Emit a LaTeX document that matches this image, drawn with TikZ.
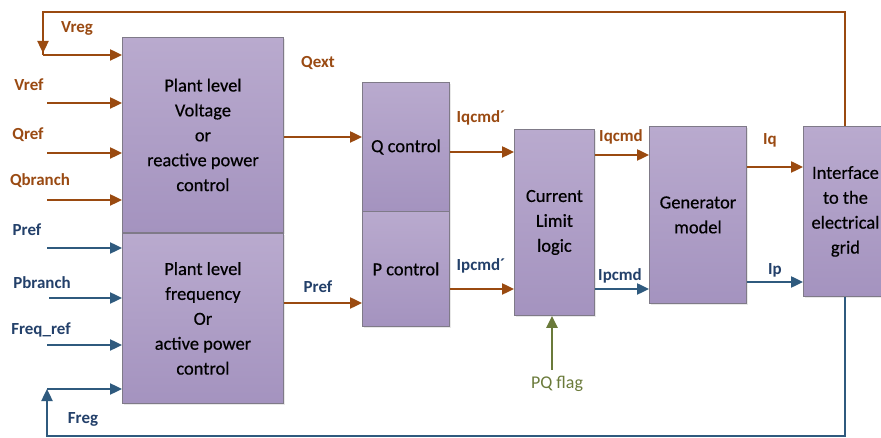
\documentclass[tikz,border=0pt]{standalone}
\usepackage{fontspec}
\setmainfont{Carlito}
\newfontfamily\boxfont[UprightFeatures={FakeBold=0.5}]{Carlito}
\usetikzlibrary{arrows.meta,shadows}
\definecolor{ptop}{HTML}{B9AACE}
\definecolor{pbot}{HTML}{A493BF}
\definecolor{edge}{HTML}{7F7A88}
\definecolor{qline}{HTML}{9A4A10}
\definecolor{qtext}{HTML}{9A4A12}
\definecolor{pline}{HTML}{2F5A7E}
\definecolor{ptext}{HTML}{23406A}
\definecolor{flag}{HTML}{6A7A3A}
\tikzset{
  blk/.style={draw=edge, line width=0.9bp, top color=ptop, bottom color=pbot,
    anchor=north west, inner sep=0pt, align=center,
    font=\boxfont\fontsize{18.5}{25}\selectfont,
    drop shadow={opacity=0.18, shadow xshift=2bp, shadow yshift=-2bp}},
  qarr/.style={draw=qline, line width=2.4bp, -{Triangle[length=12bp,width=11bp]}},
  parr/.style={draw=pline, line width=2.4bp, -{Triangle[length=12bp,width=11bp]}},
  qwire/.style={draw=qline, line width=2.4bp},
  pwire/.style={draw=pline, line width=2.4bp},
  qlab/.style={text=qtext, font=\bfseries\fontsize{17}{20}\selectfont, inner sep=0pt},
  plab/.style={text=ptext, font=\bfseries\fontsize{17}{20}\selectfont, inner sep=0pt},
}
\begin{document}
\begin{tikzpicture}[x=1bp,y=-1bp]
\useasboundingbox[fill=white] (0,0) rectangle (881,438);

% blocks
\node[blk, minimum width=161bp, minimum height=195bp] (pv) at (122,37)
  {Plant level\\Voltage\\or\\reactive power\\control};
\node[blk, minimum width=161bp, minimum height=170bp] (pf) at (122,233)
  {Plant level\\frequency\\Or\\active power\\control};
\node[blk, minimum width=87bp, minimum height=129bp] (qc) at (362,82) {Q control};
\node[blk, minimum width=87bp, minimum height=115bp] (pc) at (362,211) {P control};
\node[blk, minimum width=80bp, minimum height=186bp] (cl) at (514,129)
  {Current\\Limit\\logic};
\node[blk, minimum width=97bp, minimum height=177bp] (gen) at (649,126)
  {Generator\\model};
\node[blk, minimum width=84bp, minimum height=170bp] (grid) at (803,126)
  {Interface\\to the\\electrical\\grid};

% free ends of the input arrows and feedback corners
\coordinate (vrefS) at (47,103);
\coordinate (qrefS) at (47,153);
\coordinate (qbrS) at (47,200);
\coordinate (prefS) at (47,248);
\coordinate (pbrS) at (49,298);
\coordinate (frefS) at (47,345);
\coordinate (vregC) at (43,55);
\coordinate (fregC) at (47,389);
\coordinate (flagS) at (552,370);

% reactive (Q) path
\draw[qarr] (vrefS) -- (pv.west |- vrefS);
\draw[qarr] (qrefS) -- (pv.west |- qrefS);
\draw[qarr] (qbrS) -- (pv.west |- qbrS);
\draw[qwire] (grid.north -| 845,0) -- (845,12) -| (vregC);
\draw[qarr] (43,12) -- (43,53);
\draw[qarr] (vregC) -- (pv.west |- vregC);
\draw[qarr] (pv.east |- 0,137) -- (qc.west |- 0,137);
\draw[qarr] (qc.east |- 0,152) -- (cl.west |- 0,152);
\draw[qarr] (pc.east |- 0,289) -- (cl.west |- 0,289);
\draw[qarr] (pf.east |- 0,303) -- (pc.west |- 0,303);
\draw[qarr] (cl.east |- 0,155) -- (gen.west |- 0,155);
\draw[qarr] (gen.east |- 0,167) -- (grid.west |- 0,167);

% active (P) path
\draw[parr] (prefS) -- (pf.west |- prefS);
\draw[parr] (pbrS) -- (pf.west |- pbrS);
\draw[parr] (frefS) -- (pf.west |- frefS);
\draw[pwire] (grid.south -| 845,0) -- (845,436) -| (47,400);
\draw[parr] (47,436) -- (fregC);
\draw[parr] (fregC) -- (pf.west |- fregC);
\draw[parr] (cl.east |- 0,289) -- (gen.west |- 0,289);
\draw[parr] (gen.east |- 0,282) -- (grid.west |- 0,282);

% mode flag
\draw[draw=flag, line width=2.4bp, -{Triangle[length=12bp,width=11bp]}] (flagS) -- (cl.south -| flagS);
\node[text=flag, font=\fontsize{18}{20}\selectfont, inner sep=0pt] (flagL) at (557,384) {PQ flag};

% signal labels
\node[qlab] (lVreg) at (77,28) {Vreg};
\node[qlab] (lVref) at (29,85) {Vref};
\node[qlab] (lQref) at (28,135) {Qref};
\node[qlab] (lQbr) at (40,181) {Qbranch};
\node[qlab] (lQext) at (318,63) {Qext};
\node[qlab] (lIqp) at (481,118) {Iqcmd´};
\node[qlab] (lIq2) at (621,137) {Iqcmd};
\node[qlab] (lIq) at (770,140) {Iq};
\node[plab] (lPref) at (27,230) {Pref};
\node[plab] (lPbr) at (42,283) {Pbranch};
\node[plab] (lFref) at (41,330) {Freq\_ref};
\node[plab] (lFreg) at (83,419) {Freg};
\node[plab] (lPref2) at (318,287) {Pref};
\node[plab] (lIpp) at (481,266) {Ipcmd´};
\node[plab] (lIp2) at (620,276) {Ipcmd};
\node[plab] (lIp) at (775,270) {Ip};
\end{tikzpicture}
\end{document}
